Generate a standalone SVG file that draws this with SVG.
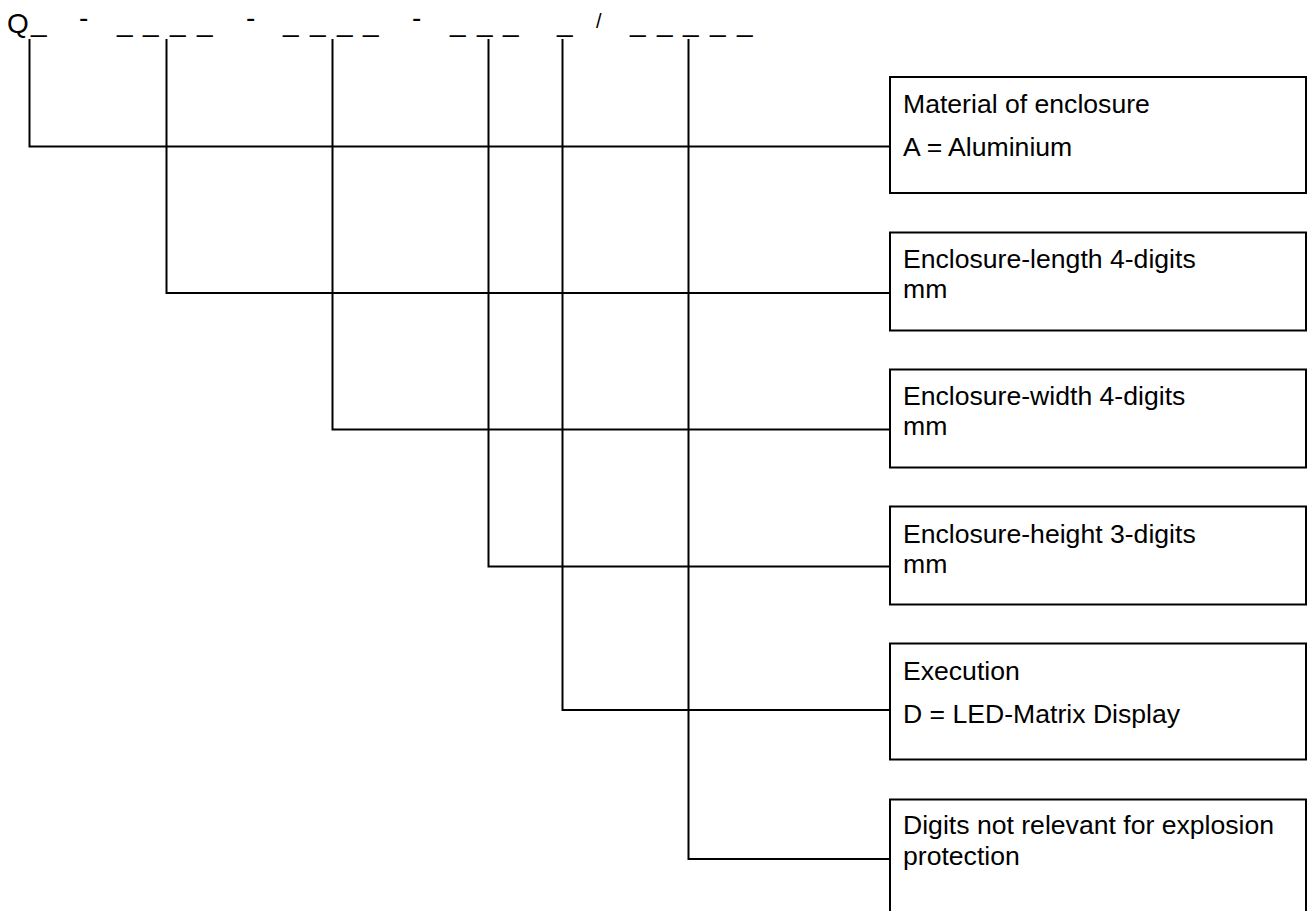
<svg xmlns="http://www.w3.org/2000/svg" width="1313" height="911" viewBox="0 0 1313 911">
<style>
  .t { font-family: "Liberation Sans", Arial, sans-serif; font-size: 26.6px; fill: #000; }
  .c { font-family: "Liberation Sans", Arial, sans-serif; font-size: 28px; fill: #000; }
  .box { fill: #fff; stroke: #000; stroke-width: 2; }
  .ln { fill: none; stroke: #000; stroke-width: 2; }
</style>
<rect x="0" y="0" width="1313" height="911" fill="#fff"/>
<g id="code">
  <text class="c" x="7" y="33">Q</text>
  <text class="c">
    <tspan x="31" y="30.5">_</tspan>
    <tspan x="117" y="30.5">_</tspan><tspan x="143" y="30.5">_</tspan><tspan x="170" y="30.5">_</tspan><tspan x="197" y="30.5">_</tspan>
    <tspan x="283" y="30.5">_</tspan><tspan x="310" y="30.5">_</tspan><tspan x="337" y="30.5">_</tspan><tspan x="363" y="30.5">_</tspan>
    <tspan x="450" y="30.5">_</tspan><tspan x="477" y="30.5">_</tspan><tspan x="503" y="30.5">_</tspan>
    <tspan x="557" y="30.5">_</tspan>
    <tspan x="630" y="30.5">_</tspan><tspan x="657" y="30.5">_</tspan><tspan x="683" y="30.5">_</tspan><tspan x="710" y="30.5">_</tspan><tspan x="737" y="30.5">_</tspan>
  </text>
  <text class="c">
    <tspan x="79" y="26.5">-</tspan><tspan x="246" y="26.5">-</tspan><tspan x="412" y="26.5">-</tspan>
  </text>
  <text class="c" x="596" y="27.5" style="font-size:20px">/</text>
</g>
<g id="connectors">
  <polyline class="ln" points="29.5,39 29.5,146.5 890,146.5"/>
  <polyline class="ln" points="166.5,39 166.5,293 890,293"/>
  <polyline class="ln" points="332.5,39 332.5,429.5 890,429.5"/>
  <polyline class="ln" points="488.5,39 488.5,566.5 890,566.5"/>
  <polyline class="ln" points="562.5,39 562.5,710 890,710"/>
  <polyline class="ln" points="688.5,39 688.5,859 890,859"/>
</g>
<g id="n1">
  <rect class="box" x="890" y="77" width="416" height="116"/>
  <text class="t" x="903" y="113">Material of enclosure</text>
  <text class="t" x="903" y="156">A = Aluminium</text>
</g>
<g id="n2">
  <rect class="box" x="890" y="232.5" width="416" height="98"/>
  <text class="t" x="903" y="268">Enclosure-length 4-digits</text>
  <text class="t" x="903" y="298">mm</text>
</g>
<g id="n3">
  <rect class="box" x="890" y="369.5" width="416" height="98"/>
  <text class="t" x="903" y="405">Enclosure-width 4-digits</text>
  <text class="t" x="903" y="435">mm</text>
</g>
<g id="n4">
  <rect class="box" x="890" y="506.5" width="416" height="98"/>
  <text class="t" x="903" y="543">Enclosure-height 3-digits</text>
  <text class="t" x="903" y="573">mm</text>
</g>
<g id="n5">
  <rect class="box" x="890" y="643.5" width="416" height="116"/>
  <text class="t" x="903" y="680">Execution</text>
  <text class="t" x="903" y="723">D = LED-Matrix Display</text>
</g>
<g id="n6">
  <rect class="box" x="890" y="799.5" width="416" height="130"/>
  <text class="t" x="903" y="834">Digits not relevant for explosion</text>
  <text class="t" x="903" y="865">protection</text>
</g>
</svg>
